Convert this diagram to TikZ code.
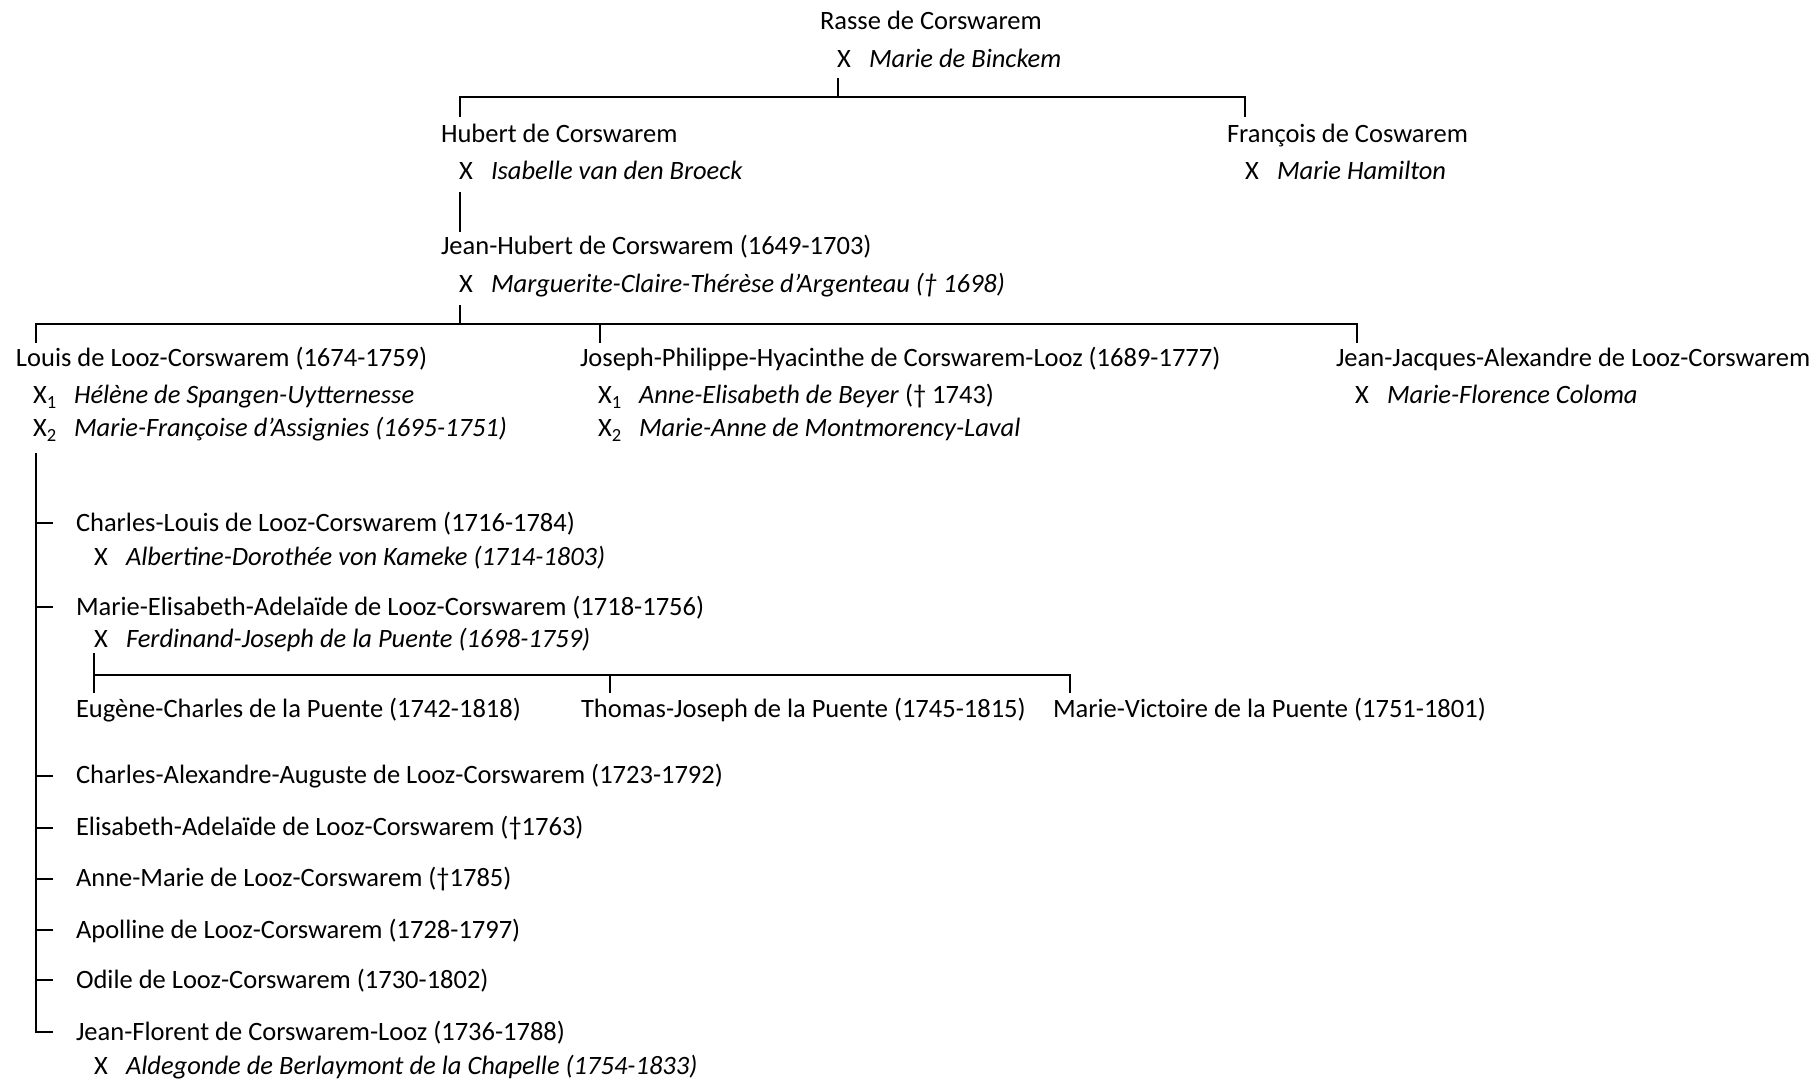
\documentclass[tikz,border=0pt]{standalone}
\usepackage{fontspec}
\setmainfont{Carlito}
\newcommand\wed[1]{\makebox[16pt][l]{X}\textit{#1}}
\newcommand\wedi[2]{\makebox[20.5pt][l]{X\textsubscript{#1}}\textit{#2}}
\begin{document}
\begin{tikzpicture}[x=0.5pt,y=-0.5pt,line width=1pt,
  person/.style={anchor=base west,inner sep=0pt,font=\fontsize{13.25}{16}\selectfont}]
\useasboundingbox (0,0) rectangle (1819,1079);
\node [person] (rasse) at (819,30) {Rasse de Corswarem};
\node [person] (rasse-x) at (836,68) {\wed{Marie de Binckem}};
\node [person] (hubert) at (440,143) {Hubert de Corswarem};
\node [person] (hubert-x) at (458,180) {\wed{Isabelle van den Broeck}};
\node [person] (francois) at (1226,143) {François de Coswarem};
\node [person] (francois-x) at (1244,180) {\wed{Marie Hamilton}};
\node [person] (jeanhubert) at (440,255) {Jean-Hubert de Corswarem (1649-1703)};
\node [person] (jeanhubert-x) at (458,293) {\wed{Marguerite-Claire-Thérèse d’Argenteau († 1698)}};
\node [person] (louis) at (15,367) {Louis de Looz-Corswarem (1674-1759)};
\node [person] (louis-x1) at (32,404) {\wedi{1}{Hélène de Spangen-Uytternesse}};
\node [person] (louis-x2) at (32,437) {\wedi{2}{Marie-Françoise d’Assignies (1695-1751)}};
\node [person] (joseph) at (579,367) {Joseph-Philippe-Hyacinthe de Corswarem-Looz (1689-1777)};
\node [person] (joseph-x1) at (597,404) {\wedi{1}{Anne-Elisabeth de Beyer} († 1743)};
\node [person] (joseph-x2) at (597,437) {\wedi{2}{Marie-Anne de Montmorency-Laval}};
\node [person] (jeanjacques) at (1335,367) {Jean-Jacques-Alexandre de Looz-Corswarem};
\node [person] (jeanjacques-x) at (1354,404) {\wed{Marie-Florence Coloma}};
\node [person] (charleslouis) at (75,531) {Charles-Louis de Looz-Corswarem (1716-1784)};
\node [person] (charleslouis-x) at (93,565) {\wed{Albertine-Dorothée von Kameke (1714-1803)}};
\node [person] (marieelisabeth) at (75,615) {Marie-Elisabeth-Adelaïde de Looz-Corswarem (1718-1756)};
\node [person] (marieelisabeth-x) at (93,647) {\wed{Ferdinand-Joseph de la Puente (1698-1759)}};
\node [person] (eugene) at (75,717) {Eugène-Charles de la Puente (1742-1818)};
\node [person] (thomas) at (580,717) {Thomas-Joseph de la Puente (1745-1815)};
\node [person] (marievictoire) at (1052,717) {Marie-Victoire de la Puente (1751-1801)};
\node [person] (charlesalexandre) at (75,783) {Charles-Alexandre-Auguste de Looz-Corswarem (1723-1792)};
\node [person] (elisabeth) at (75,835) {Elisabeth-Adelaïde de Looz-Corswarem (†1763)};
\node [person] (annemarie) at (75,886) {Anne-Marie de Looz-Corswarem (†1785)};
\node [person] (apolline) at (75,938) {Apolline de Looz-Corswarem (1728-1797)};
\node [person] (odile) at (75,988) {Odile de Looz-Corswarem (1730-1802)};
\node [person] (jeanflorent) at (75,1040) {Jean-Florent de Corswarem-Looz (1736-1788)};
\node [person] (jeanflorent-x) at (93,1074) {\wed{Aldegonde de Berlaymont de la Chapelle (1754-1833)}};
\coordinate (rasse-a) at (838,78);
\coordinate (rasse-b) at (838,97);
\coordinate (hubert-top) at (460,117);
\coordinate (francois-top) at (1245,117);
\coordinate (hubert-a) at (460,192);
\coordinate (jeanhubert-top) at (460,232);
\coordinate (jeanhubert-a) at (460,305);
\coordinate (jeanhubert-b) at (460,324);
\coordinate (louis-top) at (36,343);
\coordinate (joseph-top) at (600,343);
\coordinate (jeanjacques-top) at (1357,343);
\coordinate (trunk) at (36,453);
\coordinate (puente-a) at (94,653);
\coordinate (eugene-top) at (94,693);
\coordinate (puente-b) at (94,675);
\coordinate (thomas-top) at (610,693);
\coordinate (marievictoire-top) at (1070,693);
\draw (rasse-a) -- (rasse-b);
\draw (hubert-top) |- (rasse-b) -| (francois-top);
\draw (hubert-a) -- (jeanhubert-top);
\draw (jeanhubert-a) -- (jeanhubert-b);
\draw (louis-top) |- (jeanhubert-b) -| (jeanjacques-top);
\draw (joseph-top) -- (joseph-top |- jeanhubert-b);
\draw (trunk) |- ([xshift=-11pt]jeanflorent.west);
\foreach \c in {charleslouis,marieelisabeth,charlesalexandre,elisabeth,annemarie,apolline,odile}
  \draw (trunk |- \c.west) -- ([xshift=-11pt]\c.west);
\draw (puente-a) -- (eugene-top);
\draw (puente-b) -| (marievictoire-top);
\draw (thomas-top) -- (thomas-top |- puente-b);
\end{tikzpicture}
\end{document}
